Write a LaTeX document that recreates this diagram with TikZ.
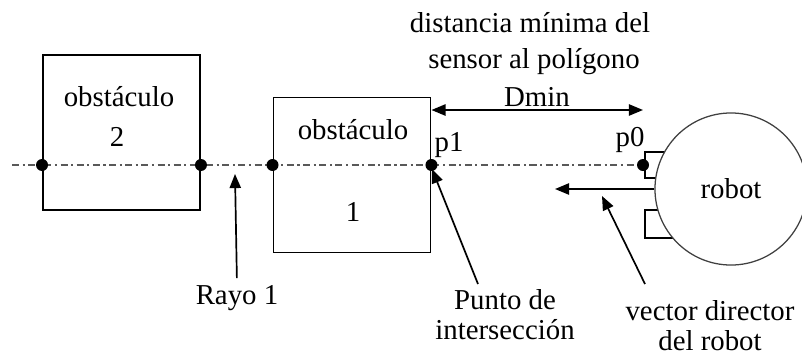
\documentclass[tikz,border=0pt]{standalone}
\usepackage{fontspec}
\setmainfont{Liberation Serif}
\usetikzlibrary{arrows.meta}
\begin{document}
\begin{tikzpicture}[x=0.025cm,y=-0.025cm,
		>={Triangle[length=10pt,width=8pt]},
		every node/.style={font=\fontsize{20.5}{21.5}\selectfont, inner sep=0pt},
		caja/.style={draw, line width=1.2pt, minimum width=3.93cm, minimum height=3.88cm},
		rayo/.style={black!65, line width=1.1pt, dash pattern=on 5pt off 2.5pt on 1.5pt off 2.5pt},
		flecha/.style={->, line width=1.2pt}]
		\useasboundingbox (0,0) rectangle (802,358);
		
		% Obstaculo 2
		\node[caja] (obs2) at (121.5,132.5) {};
		\node (obs2txt) at (119,97) {obstáculo};
		\node (obs2num) at (117,137) {2};
		
		% Obstaculo 1
		\node[caja] (obs1) at (352,175) {};
		\node (obs1txt) at (353,130) {obstáculo};
		\node (obs1num) at (353,212) {1};
		
		% Sensores y robot
		\draw[line width=1.2pt] (645,152) rectangle (668,178);
		\draw[line width=1.2pt] (645,210) rectangle (672,238);
		\node[draw=black!75, line width=0.9pt, fill=white, circle, minimum size=3.8cm] (robot) at (731,189) {robot};
		
		% Rayo
		\coordinate (r0) at (12,165);
		\coordinate (a2) at (obs2.west |- r0);
		\coordinate (b2) at (obs2.east |- r0);
		\coordinate (a1) at (obs1.west |- r0);
		\coordinate (p1) at (obs1.east |- r0);
		\coordinate (p0) at (643,165);
		\draw[rayo] (r0) -- (p0);
		\foreach \c in {a2,b2,a1,p1,p0}
			\fill (\c) circle (6);
		\node (p1lbl) at (449,145) {p1};
		\node (p0lbl) at (630,140) {p0};
		
		% Dmin
		\coordinate (dmin1) at (obs1.east |- 0,110);
		\coordinate (dmin0) at (p0 |- 0,110);
		\draw[<->, line width=1.2pt] (dmin1) -- (dmin0);
		\node (dmin) at (537,97) {Dmin};
		\node (dist1) at (530,23) {distancia mínima del};
		\node (dist2) at (534,62) {sensor al polígono};
		
		% Vector director
		\coordinate (vd) at (555,0);
		\draw[flecha] (robot.west) -- (robot.west -| vd);
		
		% Etiquetas
		\node (rayo1) at (237,298) {Rayo 1};
		\coordinate (rayotip) at (235,174);
		\draw[flecha, shorten <=5pt] (rayo1.north) -- (rayotip);
		
		\node[align=center] (punto) at (505,315) {Punto de\\intersección};
		\coordinate (puntocola) at (478,284);
		\coordinate (puntotip) at (432,169);
		\draw[flecha] (puntocola) -- (puntotip);
		
		\node[align=center] (vdlbl) at (710,326) {vector director\\del robot};
		\coordinate (vdcola) at (645,284);
		\coordinate (vdtip) at (602,196);
		\draw[flecha] (vdcola) -- (vdtip);
	\end{tikzpicture}
\end{document}
